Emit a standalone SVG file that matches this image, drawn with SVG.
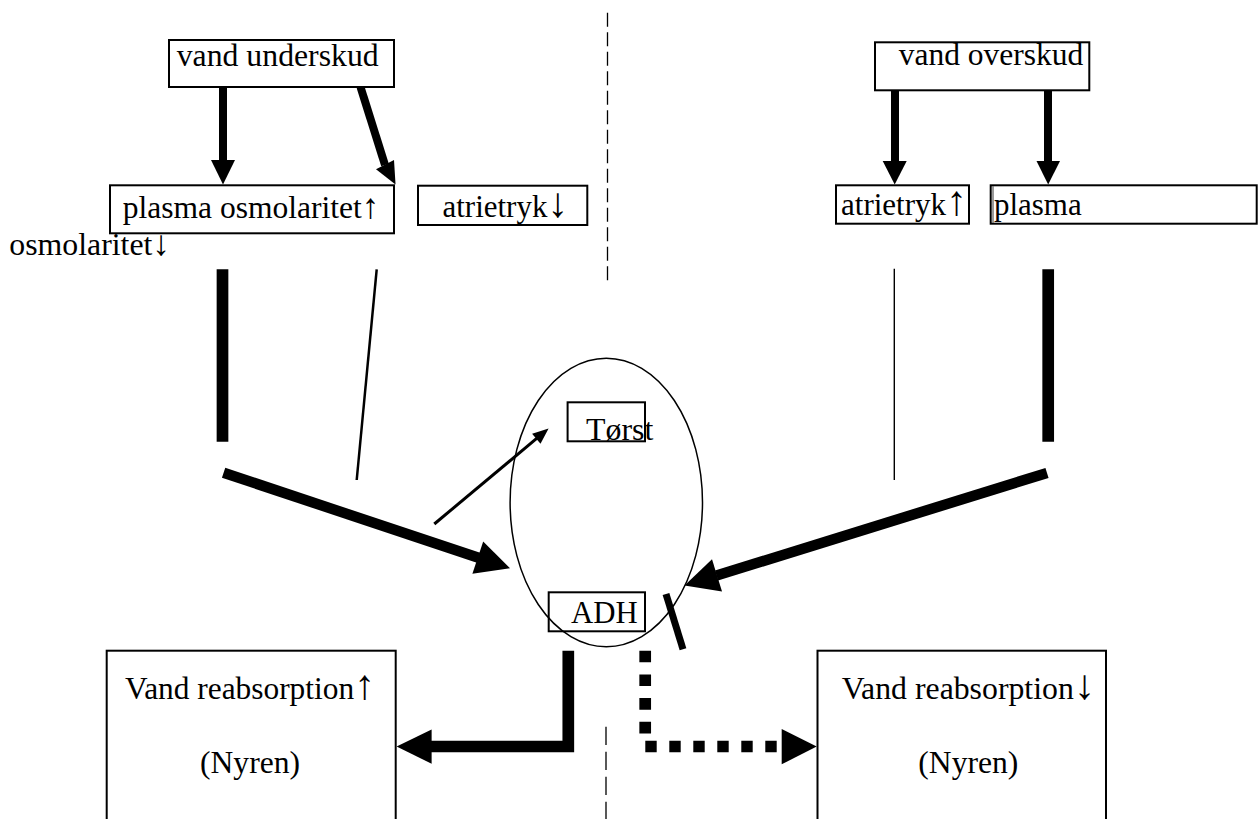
<svg xmlns="http://www.w3.org/2000/svg" width="1259" height="819" viewBox="0 0 1259 819">
<style>
  .box { fill: #fff; stroke: #000; stroke-width: 2; }
  .lbl { font-family: "Liberation Serif", "Times New Roman", serif; font-size: 31.5px; fill: #000; }
  .arr { font-family: "Liberation Serif", "DejaVu Serif", serif; font-size: 42px; fill: #000; }
  .arr-s { font-family: "Liberation Serif", "DejaVu Serif", serif; font-size: 35px; fill: #000; }
  .thick { stroke: #000; stroke-width: 8; fill: none; }
  .fat { stroke: #000; stroke-width: 10.5; fill: none; }
  .bar { stroke: #000; stroke-width: 11.7; fill: none; }
  .head { fill: #000; stroke: none; }
  .dash { stroke: #000; stroke-width: 1.3; fill: none; }
</style>
<rect width="1259" height="819" fill="#fff"/>

<g id="connectors">
  <!-- divider dashed lines -->
  <line class="dash" x1="607.5" y1="12.7" x2="607.5" y2="282" stroke-dasharray="14 5.5"/>
  <line class="dash" x1="606" y1="726.7" x2="606" y2="819" stroke-dasharray="18.3 6.7"/>

  <!-- vand underskud -> plasma osmolaritet -->
  <line class="thick" x1="223" y1="87" x2="223" y2="161"/>
  <polygon class="head" points="211,160 235,160 223,184.5"/>
  <!-- vand underskud -> (diagonal) -->
  <line class="thick" x1="360.5" y1="87" x2="385" y2="165" stroke-width="9"/>
  <polygon class="head" points="376,169.3 394,160 395.5,184.5"/>

  <!-- vand overskud arrows -->
  <line class="thick" x1="895" y1="90" x2="895" y2="162"/>
  <polygon class="head" points="882.7,161 906.7,161 894.7,184.5"/>
  <line class="thick" x1="1048" y1="90" x2="1048" y2="162"/>
  <polygon class="head" points="1036.5,161 1060,161 1048.2,184.5"/>

  <!-- vertical segments -->
  <line x1="222.5" y1="269.3" x2="222.5" y2="441.7" stroke="#000" stroke-width="11.7"/>
  <line x1="376.7" y1="269.3" x2="356.7" y2="480" stroke="#000" stroke-width="2.5"/>
  <line x1="894.3" y1="268.7" x2="894.3" y2="480" stroke="#000" stroke-width="1.4"/>
  <line x1="1048.2" y1="269.3" x2="1048.2" y2="441.7" stroke="#000" stroke-width="11.7"/>

  <!-- big diagonal arrows into ellipse -->
  <line class="fat" x1="223.6" y1="472.7" x2="478.5" y2="557.8"/>
  <polygon class="head" points="472.4,573.7 483.2,541.5 510,568.3"/>
  <line class="fat" x1="1047" y1="473" x2="716.5" y2="575.5"/>
  <polygon class="head" points="722,591.6 712,559.2 684.5,585.5"/>

  <!-- arrow to Tørst -->
  <line x1="434.3" y1="524" x2="537" y2="438.2" stroke="#000" stroke-width="3"/>
  <polygon class="head" points="540.5,443.8 532.1,433.8 548.6,428.5"/>

  <!-- inhibition bar -->
  <line x1="666" y1="594" x2="683" y2="649.3" stroke="#000" stroke-width="7"/>

  <!-- ADH -> Vand reabsorption up (solid L) -->
  <polyline class="bar" points="568.3,650.7 568.3,746.5 430,746.5" stroke-linejoin="miter"/>
  <polygon class="head" points="431.6,729.5 431.6,763.7 396.6,746.6"/>

  <!-- ADH -> Vand reabsorption down (dotted L) -->
  <line class="bar" x1="645.2" y1="650.7" x2="645.2" y2="734" stroke-dasharray="11.6 12.1"/>
  <line class="bar" x1="645.3" y1="746.5" x2="777" y2="746.5" stroke-dasharray="11.4 12.6"/>
  <polygon class="head" points="781.7,729 781.7,764.3 816.7,746.6"/>
</g>

<g id="node-vand-underskud">
  <rect class="box" x="169" y="40" width="225" height="47"/>
  <text class="lbl" x="176.7" y="65.7" textLength="202" lengthAdjust="spacingAndGlyphs">vand underskud</text>
</g>

<g id="node-plasma-osmolaritet-op">
  <rect class="box" x="110" y="185.3" width="284" height="48"/>
  <text class="lbl" x="122.7" y="218.3" textLength="256.6" lengthAdjust="spacingAndGlyphs">plasma osmolaritet<tspan class="arr-s">↑</tspan></text>
</g>

<g id="node-osmolaritet-ned">
  <text class="lbl" x="9.3" y="255" textLength="160.7" lengthAdjust="spacingAndGlyphs">osmolaritet<tspan class="arr-s">↓</tspan></text>
</g>

<g id="node-atrietryk-ned">
  <rect class="box" x="418" y="185.7" width="169.3" height="39.3"/>
  <text class="lbl" x="442.5" y="216.7" textLength="125.5" lengthAdjust="spacingAndGlyphs">atrietryk<tspan class="arr">↓</tspan></text>
</g>

<g id="node-vand-overskud">
  <rect class="box" x="875" y="42.3" width="214.3" height="48"/>
  <text class="lbl" x="898.7" y="65" textLength="184.6" lengthAdjust="spacingAndGlyphs">vand overskud</text>
</g>

<g id="node-atrietryk-op">
  <rect class="box" x="836" y="185.3" width="133" height="38.4"/>
  <text class="lbl" x="841" y="215" textLength="125.7" lengthAdjust="spacingAndGlyphs">atrietryk<tspan class="arr">↑</tspan></text>
</g>

<g id="node-plasma">
  <rect class="box" x="990.7" y="185.3" width="266" height="38.4"/>
  <line x1="993" y1="186.3" x2="993" y2="222.7" stroke="#000" stroke-width="0.8"/>
  <text class="lbl" x="994" y="215" textLength="87.7" lengthAdjust="spacingAndGlyphs">plasma</text>
</g>

<g id="node-hypothalamus">
  <ellipse cx="606.3" cy="502.5" rx="96.2" ry="144.2" fill="none" stroke="#000" stroke-width="1.5"/>
</g>

<g id="node-torst">
  <rect x="567.6" y="402.3" width="77.4" height="39" fill="none" stroke="#000" stroke-width="2"/>
  <text class="lbl" x="586" y="440" textLength="67.3" lengthAdjust="spacingAndGlyphs">Tørst</text>
</g>

<g id="node-adh">
  <rect x="548.7" y="592.3" width="96.3" height="39" fill="none" stroke="#000" stroke-width="2"/>
  <text class="lbl" x="571" y="623.3" textLength="66.7" lengthAdjust="spacingAndGlyphs">ADH</text>
</g>

<g id="node-reabsorption-op">
  <rect class="box" x="106.7" y="650.7" width="289" height="180"/>
  <text class="lbl" x="125" y="699.3" textLength="250" lengthAdjust="spacingAndGlyphs">Vand reabsorption<tspan class="arr">↑</tspan></text>
  <text class="lbl" x="200" y="772.7" textLength="100" lengthAdjust="spacingAndGlyphs">(Nyren)</text>
</g>

<g id="node-reabsorption-ned">
  <rect class="box" x="817.5" y="650.7" width="288.5" height="180"/>
  <text class="lbl" x="841.7" y="699.3" textLength="253.3" lengthAdjust="spacingAndGlyphs">Vand reabsorption<tspan class="arr">↓</tspan></text>
  <text class="lbl" x="918.3" y="772.7" textLength="100" lengthAdjust="spacingAndGlyphs">(Nyren)</text>
</g>
</svg>
